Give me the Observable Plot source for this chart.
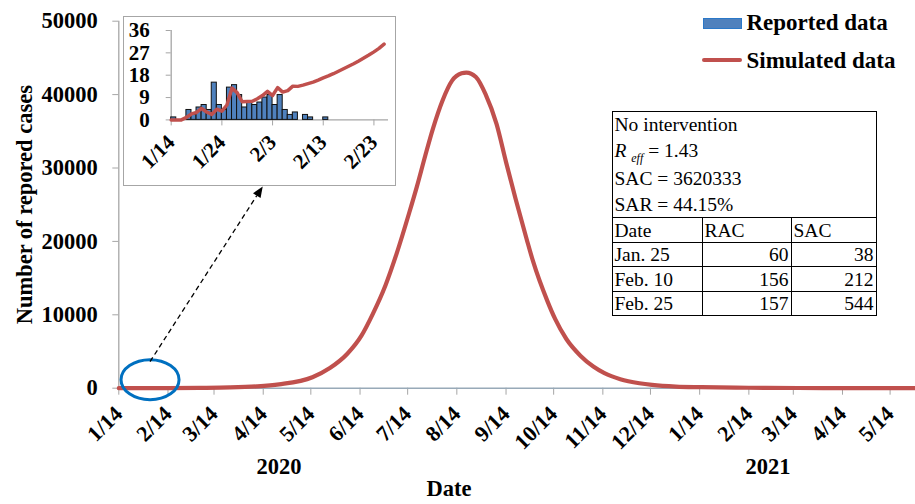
<!DOCTYPE html>
<html><head><meta charset="utf-8">
<script src="https://cdn.jsdelivr.net/npm/d3@7"></script>
<script src="https://cdn.jsdelivr.net/npm/@observablehq/plot@0.6"></script>
<style>
body{margin:0;background:#fff;}
#wrap{position:relative;width:915px;height:504px;overflow:hidden;font-family:"Liberation Serif","Times New Roman",serif;color:#000;}
#wrap > svg{position:absolute;left:0;top:0;}
#inset{position:absolute;left:122.5px;top:15.5px;width:271px;height:168px;border:1.5px solid #a6a6a6;background:#fff;}
#inset svg{display:block;}
.leg{position:absolute;font-weight:bold;font-size:23px;line-height:23px;white-space:nowrap;}
#tbl{position:absolute;left:611.5px;top:111px;}
#tbl table{border-collapse:collapse;font-size:19.5px;}
#tbl td{border:1.5px solid #000;padding:0 2px;height:23.5px;line-height:23px;white-space:nowrap;}
#tbl td.hdr{height:104px;line-height:25.6px;vertical-align:top;padding-top:0;}
#tbl td.r{text-align:right;}
.sub{font-size:12px;font-style:italic;position:relative;top:5px;}
</style></head>
<body><div id="wrap">
<div id="inset"></div>
<div style="position:absolute;left:702.7px;top:17.5px;width:39px;height:11.5px;background:#4f81bd;border:1.2px solid #2a78c8;box-sizing:border-box;"></div>
<div class="leg" style="left:746.5px;top:10.5px;">Reported data</div>
<div style="position:absolute;left:702px;top:58px;width:40px;height:4px;background:#c0504d;border-radius:2px;"></div>
<div class="leg" style="left:746.5px;top:49px;">Simulated data</div>
<div id="tbl"><table>
<tr><td colspan="3" class="hdr">No intervention<br><i>R</i> <span class="sub">eff</span> = 1.43<br>SAC = 3620333<br>SAR = 44.15%</td></tr>
<tr><td style="width:85px">Date</td><td style="width:84px">RAC</td><td style="width:80px">SAC</td></tr>
<tr><td>Jan. 25</td><td class="r">60</td><td class="r">38</td></tr>
<tr><td>Feb. 10</td><td class="r">156</td><td class="r">212</td></tr>
<tr><td>Feb. 25</td><td class="r">157</td><td class="r">544</td></tr>
</table></div>
</div>
<script>
// ---- main chart data (simulated daily cases) ----
const simDates = ["2020-01-14","2020-02-13","2020-03-05","2020-03-24","2020-04-10","2020-04-24","2020-05-15","2020-05-26","2020-06-06","2020-06-15","2020-06-22","2020-06-30","2020-07-07","2020-07-15","2020-07-20","2020-07-25","2020-07-30","2020-08-05","2020-08-11","2020-08-17","2020-08-20","2020-08-26","2020-09-01","2020-09-08","2020-09-14","2020-09-20","2020-09-27","2020-10-01","2020-10-10","2020-10-15","2020-10-22","2020-10-31","2020-11-08","2020-11-15","2020-11-25","2020-12-07","2020-12-15","2020-12-30","2021-01-15","2021-02-14","2021-03-17","2021-04-17","2021-05-30"];
const simValues = [0,18,45,100,250,530,1500,2750,4700,7200,10100,14000,18300,23900,27600,31600,35400,39200,41900,42900,43000,42400,40100,36000,30800,25800,20300,17300,11900,9400,6700,4400,2950,2050,1230,680,450,220,140,60,25,10,5];
const mainTicks = ["2020-01-14","2020-02-14","2020-03-14","2020-04-14","2020-05-14","2020-06-14","2020-07-14","2020-08-14","2020-09-14","2020-10-14","2020-11-14","2020-12-14","2021-01-14","2021-02-14","2021-03-14","2021-04-14","2021-05-14"];
const yTicks = [0,10000,20000,30000,40000,50000];
const yearLabels = ["2020","2021"];
const yearLabelDates = ["2020-04-24","2021-02-26"];

// ---- inset data ----
const insetDates = ["2020-01-14","2020-01-15","2020-01-16","2020-01-17","2020-01-18","2020-01-19","2020-01-20","2020-01-21","2020-01-22","2020-01-23","2020-01-24","2020-01-25","2020-01-26","2020-01-27","2020-01-28","2020-01-29","2020-01-30","2020-01-31","2020-02-01","2020-02-02","2020-02-03","2020-02-04","2020-02-05","2020-02-06","2020-02-07","2020-02-08","2020-02-09","2020-02-10","2020-02-11","2020-02-12","2020-02-13","2020-02-14","2020-02-15","2020-02-16","2020-02-17","2020-02-18","2020-02-19","2020-02-20","2020-02-21","2020-02-22","2020-02-23","2020-02-24","2020-02-25"];
const reportedValues = [1,0,0,4,2,5,6,4,15,6,4,13,14,10,5,7,6,7,9,10,6,10,4,2,3,0,2,1,0,0,1];
const insetSimValues = [0,0,0,1,2.4,3,4.6,3.2,2.2,4.3,3.5,6,12.8,11,7.3,7.4,7.5,8.5,9.8,11.5,9.8,13,11.2,11.8,13.6,13.5,14,14.6,15.2,16,16.9,17.7,18.6,19.6,20.6,21.6,22.6,23.7,24.9,26.1,27.4,28.8,30.5];
const insetTicks = ["2020-01-14","2020-01-24","2020-02-03","2020-02-13","2020-02-23"];
const insetYTicks = [0,9,18,27,36];

// annotation anchors (data coordinates)
const circleAt = {date:"2020-02-03", value:1100};
const arrowFrom = {date:"2020-02-03", value:3550};
const arrowTo = {date:"2020-04-14", value:27420};

const parse = s => new Date(s);
const fmt = d => `${d.getUTCMonth()+1}/${d.getUTCDate()}`;
const FONT = '"Liberation Serif","Times New Roman",serif';

const sim = simDates.map((d,i)=>({date:parse(d), value:simValues[i]}));
const reported = reportedValues.map((v,i)=>({date:parse(insetDates[i]), value:v})).filter(d=>d.value>0);
const insetSim = insetSimValues.map((v,i)=>({date:parse(insetDates[i]), value:v}));

const main = Plot.plot({
  width:915, height:504,
  marginLeft:118.3, marginRight:0, marginTop:20.7, marginBottom:116.3,
  style:{fontFamily:FONT, background:"transparent", color:"#000", overflow:"visible"},
  x:{type:"utc", domain:[parse("2020-01-14"), parse("2021-05-30")]},
  y:{domain:[0,50000]},
  marks:[
    Plot.axisY(yTicks, {anchor:"left", tickSize:6, tickPadding:15, stroke:"#a6a6a6", fill:"#000", fontSize:22.5, fontWeight:"bold", tickFormat:d=>String(d), label:"Number of repored cases", labelAnchor:"center", labelOffset:103, labelArrow:"none"}),
    Plot.axisX(mainTicks.map(parse), {anchor:"bottom", tickSize:7, tickPadding:15, tickRotate:-45, stroke:"#a6a6a6", fill:"#000", fontSize:22, fontWeight:"bold", tickFormat:fmt, label:null}),
    Plot.ruleX([parse("2020-01-14")], {stroke:"#a6a6a6", strokeWidth:1.3}),
    Plot.ruleY([0], {stroke:"#98a9b8", strokeWidth:1.5}),
    Plot.line(sim, {x:"date", y:"value", stroke:"#c0504d", strokeWidth:4.2, curve:"monotone-x"}),
    Plot.text(yearLabels, {x:(d,i)=>parse(yearLabelDates[i]), text:d=>d, frameAnchor:"bottom", dy:86, fontSize:22.5, fontWeight:"bold"}),
    Plot.text(["Date"], {x:()=>parse("2020-08-09"), text:d=>d, frameAnchor:"bottom", dy:108, fontSize:22.5, fontWeight:"bold"})
  ]
});
document.getElementById("wrap").prepend(main);

// annotations through the plot's scales
const xs = main.scale("x"), ys = main.scale("y");
const svg = d3.select(main);
svg.append("ellipse")
  .attr("cx", xs.apply(parse(circleAt.date))).attr("cy", ys.apply(circleAt.value))
  .attr("rx", 29).attr("ry", 20)
  .attr("fill","none").attr("stroke","#0070c0").attr("stroke-width",3);
const ax1 = xs.apply(parse(arrowFrom.date)), ay1 = ys.apply(arrowFrom.value);
const ax2 = xs.apply(parse(arrowTo.date)), ay2 = ys.apply(arrowTo.value);
const ang = Math.atan2(ay2-ay1, ax2-ax1);
const hl = 11, hw = 4.5;
const bx = ax2 - hl*Math.cos(ang), by = ay2 - hl*Math.sin(ang);
svg.append("line").attr("x1",ax1).attr("y1",ay1).attr("x2",bx).attr("y2",by)
  .attr("stroke","#000").attr("stroke-width",1.3).attr("stroke-dasharray","5,3.5");
svg.append("path")
  .attr("d", `M${ax2},${ay2}L${bx - hw*Math.sin(ang)},${by + hw*Math.cos(ang)}L${bx + hw*Math.sin(ang)},${by - hw*Math.cos(ang)}Z`)
  .attr("fill","#000");

// inset
const inset = Plot.plot({
  width:271, height:168,
  marginLeft:46.7, marginTop:13, marginRight:7, marginBottom:65.6,
  style:{fontFamily:FONT, background:"#fff", color:"#000", overflow:"visible"},
  x:{type:"utc", domain:[parse("2020-01-14"), parse("2020-02-25T21:00:00Z")]},
  y:{domain:[0,36]},
  marks:[
    Plot.axisY(insetYTicks, {anchor:"left", tickSize:5, tickPadding:16.5, stroke:"#a6a6a6", fill:"#000", fontSize:21, fontWeight:"bold", label:null}),
    Plot.axisX(insetTicks.map(parse), {anchor:"bottom", tickSize:6, tickPadding:13, tickRotate:-45, stroke:"#a6a6a6", fill:"#000", fontSize:21, fontWeight:"bold", tickFormat:fmt, label:null}),
    Plot.ruleX([parse("2020-01-14")], {stroke:"#a6a6a6", strokeWidth:1.3}),
    Plot.ruleY([0], {stroke:"#a6a6a6", strokeWidth:1.3}),
    Plot.rect(reported, {x1:"date", x2:d=>d3.utcDay.offset(d.date,1), y1:()=>0, y2:"value", fill:"#4f81bd", stroke:"#111", strokeWidth:1}),
    Plot.line(insetSim, {x:"date", y:"value", stroke:"#c0504d", strokeWidth:3.5})
  ]
});
document.getElementById("inset").append(inset);
</script>
</body></html>
